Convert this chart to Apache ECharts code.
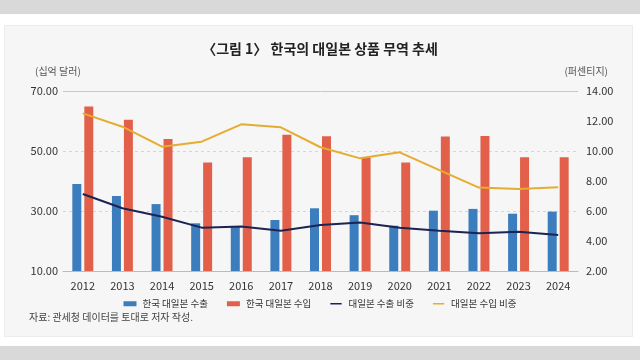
<!DOCTYPE html>
<html><head><meta charset="utf-8">
<script src="https://cdn.jsdelivr.net/npm/echarts@6/dist/echarts.min.js"></script>
<style>
html,body{margin:0;padding:0;width:640px;height:360px;overflow:hidden;background:#fff;}
#top{position:absolute;left:0;top:0;width:640px;height:14px;background:#d9d9d9;}
#bot{position:absolute;left:0;top:346px;width:640px;height:14px;background:#d9d9d9;}
#card{position:absolute;left:4px;top:25px;width:627px;height:310px;background:#f6f6f6;border:1px solid #ececec;}
#c{position:absolute;left:0;top:0;width:640px;height:360px;}
</style></head>
<body><div id="top"></div><div id="bot"></div><div id="card"></div><div id="c"></div>
<script>
const years = ['2012','2013','2014','2015','2016','2017','2018','2019','2020','2021','2022','2023','2024'];
const exportsKR = [39.0, 35.0, 32.3, 25.9, 25.0, 27.0, 30.9, 28.6, 25.1, 30.1, 30.7, 29.1, 29.8];
const importsKR = [64.8, 60.4, 54.0, 46.2, 47.9, 55.4, 54.9, 47.9, 46.2, 54.8, 55.0, 47.9, 47.9];
const exportShare = [7.13, 6.18, 5.62, 4.89, 4.96, 4.69, 5.07, 5.24, 4.89, 4.69, 4.51, 4.62, 4.40];
const importShare = [12.51, 11.62, 10.29, 10.62, 11.78, 11.58, 10.25, 9.51, 9.91, 8.73, 7.56, 7.47, 7.58];
const names = ['한국 대일본 수출','한국 대일본 수입','대일본 수출 비중','대일본 수입 비중'];
const font = '"Noto Sans CJK KR", "Noto Sans", sans-serif';
const lineIcon = 'path://M0,0L14,0L14,0.01L0,0.01Z M0,2.3L14,2.3L14,3.9L0,3.9Z M0,6.19L14,6.19L14,6.2L0,6.2Z';
const chart = echarts.init(document.getElementById('c'), null, {renderer:'canvas'});
chart.setOption({
  backgroundColor: 'transparent',
  animation: false,
  textStyle: {fontFamily: font},
  title: {text: '〈그림 1〉 한국의 대일본 상품 무역 추세', left: 'center', top: 37,
    textStyle: {fontSize: 14, fontWeight: 'bold', color: '#222', fontFamily: font}},
  graphic: [
    {type:'text', left: 35, top: 66, style:{text:'(십억 달러)', fontSize:10, fill:'#555', fontFamily: font}},
    {type:'text', right: 32, top: 66, style:{text:'(퍼센티지)', fontSize:10, fill:'#555', fontFamily: font}},
    {type:'text', left: 29, top: 312, style:{text:'자료: 관세청 데이터를 토대로 저자 작성.', fontSize:10, fill:'#444', fontFamily: font}}
  ],
  legend: {top: 294, left: 'center', itemWidth: 13, itemHeight: 5, itemGap: 19,
    textStyle: {fontSize: 9.5, color: '#333', fontFamily: font, padding: [0,0,0,1]},
    data: [
      {name: names[0], icon: 'rect'},
      {name: names[1], icon: 'rect'},
      {name: names[2], icon: lineIcon},
      {name: names[3], icon: lineIcon}
    ]},
  grid: {left: 63, right: 62, top: 91, bottom: 89},
  xAxis: {type: 'category', data: years,
    axisLine: {lineStyle: {color: '#bbb'}}, axisTick: {show: false},
    axisLabel: {fontSize: 11, color: '#333', margin: 9}},
  yAxis: [
    {type: 'value', min: 10, max: 70, interval: 20,
     axisLine: {show: false}, axisTick: {show: false},
     axisLabel: {formatter: v => v.toFixed(2), fontSize: 11, color: '#333', margin: 5},
     splitLine: {lineStyle: {color: '#d6d6d6', type: [3,3]}}},
    {type: 'value', min: 2, max: 14, interval: 2,
     axisLine: {show: false}, axisTick: {show: false},
     axisLabel: {formatter: v => v.toFixed(2), fontSize: 11, color: '#333', margin: 8},
     splitLine: {show: false}}
  ],
  series: [
    {name: names[0], type: 'bar', data: exportsKR, barWidth: 9, barGap: '33%',
     itemStyle: {color: '#3b7dbd'},
     markLine: {silent: true, symbol: 'none', label: {show: false},
       lineStyle: {color: '#c8c8c8', type: 'solid', width: 1}, data: [{yAxis: 70}]}},
    {name: names[1], type: 'bar', data: importsKR, barWidth: 9,
     itemStyle: {color: '#e2604a'}},
    {name: names[2], type: 'line', yAxisIndex: 1, data: exportShare, symbol: 'none',
     lineStyle: {color: '#1b2452', width: 2}, itemStyle: {color: '#1b2452'}},
    {name: names[3], type: 'line', yAxisIndex: 1, data: importShare, symbol: 'none',
     lineStyle: {color: '#e4ad2f', width: 2}, itemStyle: {color: '#e4ad2f'}}
  ]
});
</script></body></html>
